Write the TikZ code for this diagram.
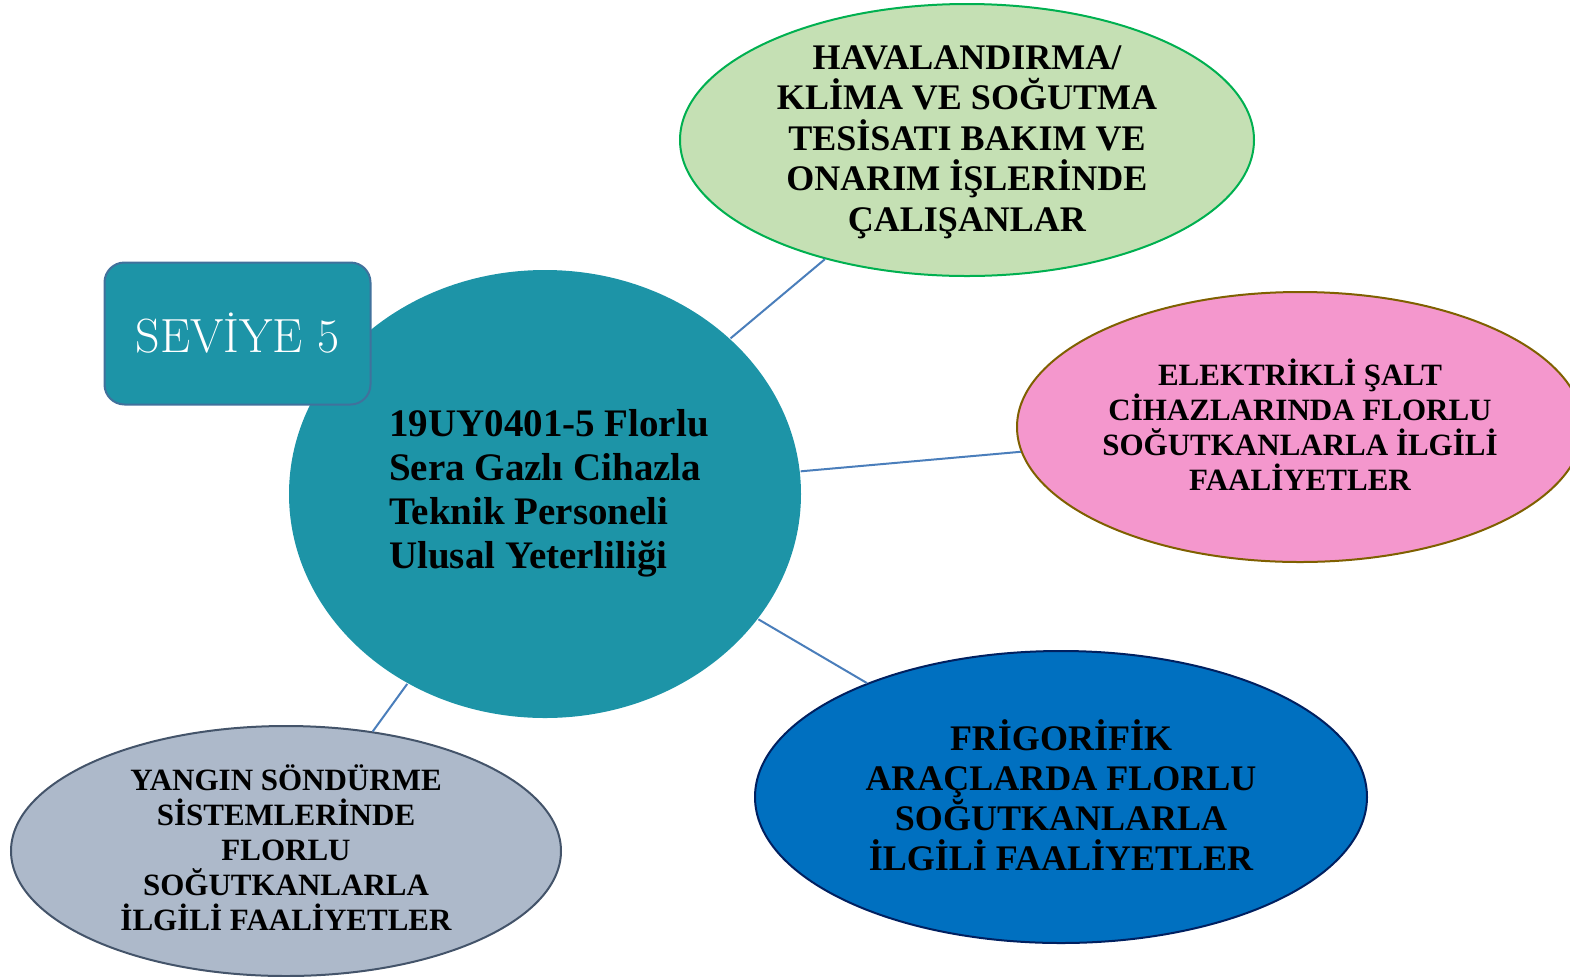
\documentclass[tikz,border=0pt]{standalone}
\usepackage{fontspec}
\newfontfamily\bodyfont{Liberation Serif}
\usetikzlibrary{shapes.geometric}
\definecolor{teal1}{HTML}{1D94A7}
\definecolor{greenfill}{HTML}{C5E0B4}
\definecolor{greenline}{HTML}{00B050}
\definecolor{pinkfill}{HTML}{F497CD}
\definecolor{pinkline}{HTML}{7F6000}
\definecolor{bluefill}{HTML}{0070C0}
\definecolor{blueline}{HTML}{002060}
\definecolor{grayfill}{HTML}{ADB9CA}
\definecolor{grayline}{HTML}{44546A}
\definecolor{boxline}{HTML}{41719C}
\definecolor{conn}{HTML}{4A7EBB}
\tikzset{
  oval/.style={ellipse, line width=1pt, inner sep=0pt},
  txt/.style={align=center, font=\bodyfont\bfseries, text=black, inner sep=0pt},
  link/.style={draw=conn, line width=1pt},
}
\begin{document}
\begin{tikzpicture}[x=0.5pt, y=-0.5pt]
\useasboundingbox (0,0) rectangle (1570,976);
% ellipses (sizes in pt = px/2)
\node[oval, fill=greenfill, draw=greenline, minimum width=287pt, minimum height=136pt] (g) at (967,140) {};
\node[oval, fill=pinkfill, draw=pinkline, minimum width=283pt, minimum height=135pt] (p) at (1300,427) {};
\node[oval, fill=bluefill, draw=blueline, minimum width=306pt, minimum height=146pt] (b) at (1061,797) {};
\node[oval, fill=grayfill, draw=grayline, minimum width=275pt, minimum height=125pt] (y) at (286,851) {};
\node[oval, fill=teal1, draw=none, minimum width=256pt, minimum height=224pt] (c) at (545,494) {};
% connectors
\draw[link] (c) -- (g);
\draw[link] (c) -- (p);
\draw[link] (c) -- (b);
\draw[link] (c) -- (y);
% level box
\node[draw=boxline, fill=teal1, line width=1pt, rounded corners=10pt, minimum width=133pt, minimum height=71pt, inner sep=0pt, text=white, font=\fontsize{24}{28}\selectfont] (s) at (237.5,333.5) {SEVİYE 5};
% texts
\node[txt, align=left, font=\bodyfont\bfseries\fontsize{19.5}{22}\selectfont] (ct) at (549,493) {19UY0401-5 Florlu\\Sera Gazlı Cihazla\\Teknik Personeli\\Ulusal Yeterliliği};
\node[txt, font=\bodyfont\bfseries\fontsize{18}{20.25}\selectfont] (gt) at (967,142) {HAVALANDIRMA/\\KLİMA VE SOĞUTMA\\TESİSATI BAKIM VE\\ONARIM İŞLERİNDE\\ÇALIŞANLAR};
\node[txt, font=\bodyfont\bfseries\fontsize{15.5}{17.5}\selectfont] (pt) at (1300,425) {ELEKTRİKLİ ŞALT\\CİHAZLARINDA FLORLU\\SOĞUTKANLARLA İLGİLİ\\FAALİYETLER};
\node[txt, font=\bodyfont\bfseries\fontsize{18}{20}\selectfont] (bt) at (1061,795) {FRİGORİFİK\\ARAÇLARDA FLORLU\\SOĞUTKANLARLA\\İLGİLİ FAALİYETLER};
\node[txt, font=\bodyfont\bfseries\fontsize{15.5}{17.5}\selectfont] (yt) at (286,848) {YANGIN SÖNDÜRME\\SİSTEMLERİNDE\\FLORLU\\SOĞUTKANLARLA\\İLGİLİ FAALİYETLER};
\end{tikzpicture}
\end{document}
